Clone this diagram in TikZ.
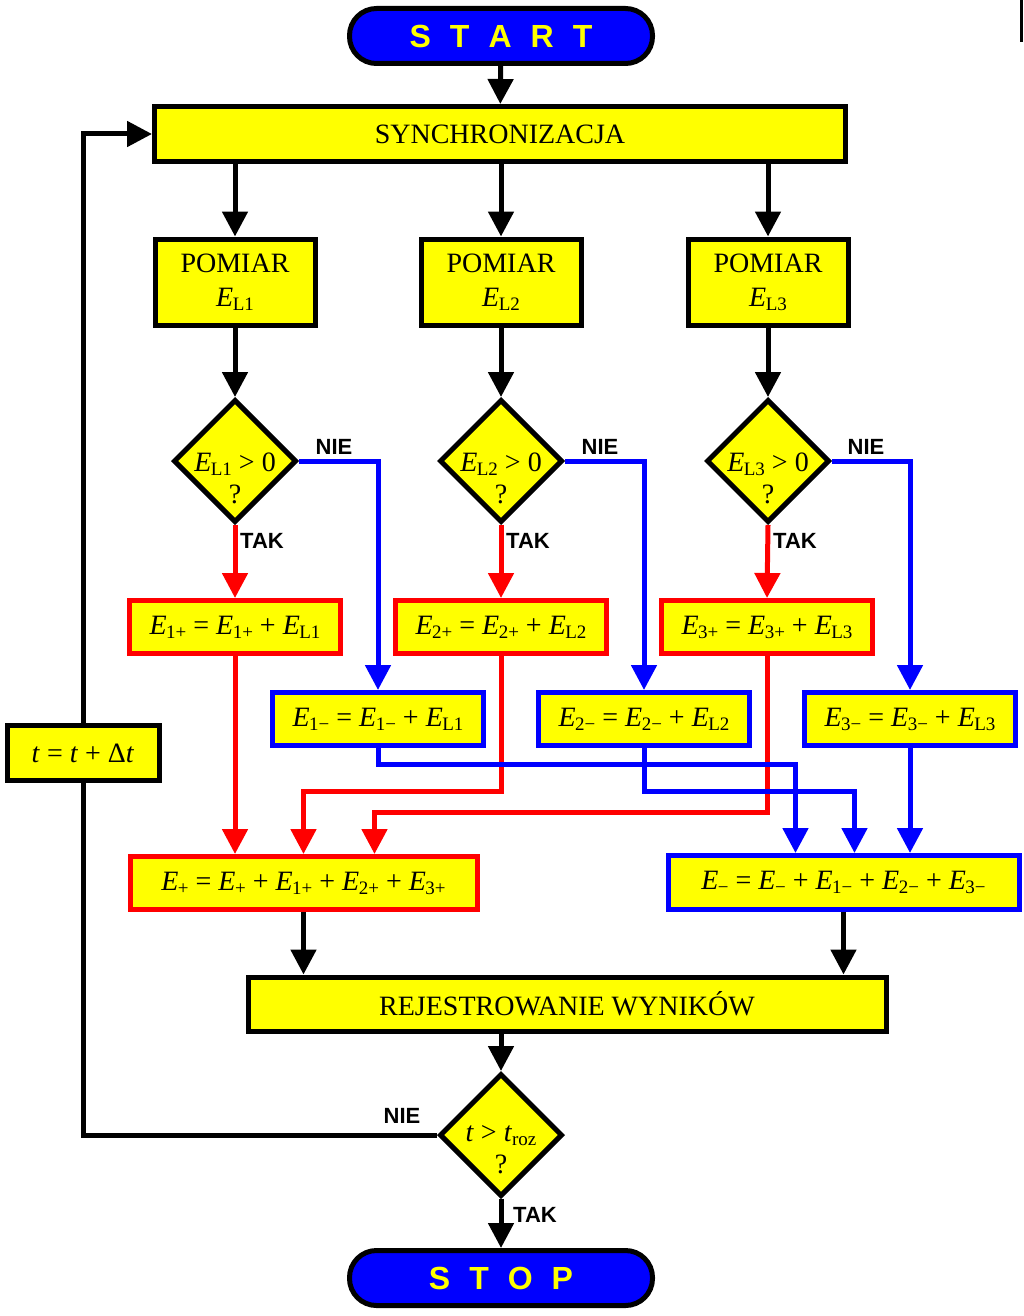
\documentclass[tikz,border=0pt]{standalone}
\usepackage{fontspec}
\setmainfont{Liberation Serif}
\newfontfamily\labfont{Liberation Sans}
\usetikzlibrary{arrows.meta,shapes.geometric,calc}

\definecolor{yel}{RGB}{255,255,0}
\definecolor{blu}{RGB}{0,0,255}
\definecolor{rd}{RGB}{255,0,0}

\newcommand\mysub[1]{\raisebox{-4pt}{\fontsize{19}{19}\selectfont #1}}
\newcommand\vE[1]{\textit{E}\kern-0.5pt\mysub{#1}}

\tikzset{
  box/.style={draw=black, fill=yel, line width=5pt, inner sep=0pt,
    font=\fontsize{28}{34}\selectfont, align=center},
  rbox/.style={box, draw=rd},
  bbox/.style={box, draw=blu},
  term/.style={draw=black, fill=blu, line width=5pt, rounded corners=27pt,
    minimum width=303, minimum height=55, inner sep=0pt, text=yel,
    font=\labfont\bfseries\fontsize{32}{32}\selectfont},
  dia/.style={diamond, draw=black, fill=yel, line width=5pt,
    minimum width=123, minimum height=123, inner sep=0pt},
  dtext/.style={font=\fontsize{28}{32}\selectfont, align=center, inner sep=0pt},
  note/.style={font=\labfont\bfseries\fontsize{22}{22}\selectfont, inner sep=0pt},
  conn/.style={line width=5pt},
  arr/.style={conn, -{Triangle[length=25pt,width=25pt]}},
}

\begin{document}
\begin{tikzpicture}[x=1pt,y=-1pt]
\useasboundingbox (0,0) rectangle (1024,1316);

% terminals
\node[term] (start) at (501,36) {S\hspace{19pt}T\hspace{19pt}A\hspace{19pt}R\hspace{19pt}T};
\node[term] (stop) at (501,1278) {S\hspace{19pt}T\hspace{19pt}O\hspace{19pt}P};

% process boxes
\node[box, minimum width=691, minimum height=55] (sync) at (500,134) {SYNCHRONIZACJA};
\node[box, minimum width=160, minimum height=86] (p1) at (235,282) {POMIAR\\\vE{L1}};
\node[box, minimum width=160, minimum height=86] (p2) at (501,282) {POMIAR\\\vE{L2}};
\node[box, minimum width=160, minimum height=86] (p3) at (768,282) {POMIAR\\\vE{L3}};

% decisions
\node[dia] (d1) at (235,461) {};
\node[dia] (d2) at (501,461) {};
\node[dia] (d3) at (768,461) {};
\node[dtext] (d1t) at ($(d1)+(0,17)$) {\vE{L1} > 0\\?};
\node[dtext] (d2t) at ($(d2)+(0,17)$) {\vE{L2} > 0\\?};
\node[dtext] (d3t) at ($(d3)+(0,17)$) {\vE{L3} > 0\\?};

% positive sums
\node[rbox, minimum width=211, minimum height=53] (ep1) at (235,627) {\vE{1+} = \vE{1+} + \vE{L1}};
\node[rbox, minimum width=211, minimum height=53] (ep2) at (501,627) {\vE{2+} = \vE{2+} + \vE{L2}};
\node[rbox, minimum width=211, minimum height=53] (ep3) at (767,627) {\vE{3+} = \vE{3+} + \vE{L3}};

% negative sums
\node[bbox, minimum width=211, minimum height=53] (em1) at (378,719) {\vE{1−} = \vE{1−} + \vE{L1}};
\node[bbox, minimum width=211, minimum height=53] (em2) at (644,719) {\vE{2−} = \vE{2−} + \vE{L2}};
\node[bbox, minimum width=211, minimum height=53] (em3) at (910,719) {\vE{3−} = \vE{3−} + \vE{L3}};

% totals
\node[rbox, minimum width=347, minimum height=53] (eplus) at (303.5,883) {\vE{+} = \vE{+} + \vE{1+} + \vE{2+} + \vE{3+}};
\node[bbox, minimum width=351, minimum height=54] (eminus) at (843.5,882.5) {\vE{−} = \vE{−} + \vE{1−} + \vE{2−} + \vE{3−}};

% time step
\node[box, minimum width=152, minimum height=55] (tb) at (83,753) {\textit{t} = \textit{t} + Δ\textit{t}};

% registration
\node[box, minimum width=638, minimum height=54] (rej) at (567,1004) {REJESTROWANIE WYNIKÓW};

% final decision
\node[dia] (dz) at (501,1135) {};
\node[dtext] (dzt) at ($(dz)+(0,15)$) {\textit{t} > \textit{t}\mysub{roz}\\?};

% labels
\node[note] (n1) at (334,447) {NIE};
\node[note] (n2) at (600,447) {NIE};
\node[note] (n3) at (866,447) {NIE};
\node[note] (t1) at (262,541) {TAK};
\node[note] (t2) at (528,541) {TAK};
\node[note] (t3) at (795,541) {TAK};
\node[note] (nz) at (402,1116) {NIE};
\node[note] (tz) at (535,1215) {TAK};

% helper coordinates
\coordinate (r2) at (0,791);
\coordinate (r3) at (0,812);
\coordinate (b1) at (0,764);
\coordinate (b2) at (0,791);
\coordinate (ein2) at (eplus.north);
\coordinate (ein3) at ([xshift=71pt]eplus.north);
\coordinate (bin1) at ([xshift=-48pt]eminus.north);
\coordinate (bin2) at ([xshift=11pt]eminus.north);

% black connectors
\draw[arr] (start) -- (sync);
\draw[arr] (sync.south -| p1) -- (p1);
\draw[arr] (sync.south -| p2) -- (p2);
\draw[arr] (sync.south -| p3) -- (p3);
\draw[arr] (p1) -- (d1);
\draw[arr] (p2) -- (d2);
\draw[arr] (p3) -- (d3);

% TAK branches
\draw[arr, color=rd] (d1.south) -- (ep1.north);
\draw[arr, color=rd] (d2.south) -- (ep2.north);
\draw[arr, color=rd] (d3.south) -- (ep3.north);

% NIE branches
\draw[arr, color=blu] (d1.east) -| (em1.north);
\draw[arr, color=blu] (d2.east) -| (em2.north);
\draw[arr, color=blu] (d3.east) -| (em3.north);

% collecting positive
\draw[arr, color=rd] (ep1.south) -- (ep1.south |- eplus.north);
\draw[arr, color=rd] (ep2.south) |- (ein2 |- r2) -- (ein2);
\draw[arr, color=rd] (ep3.south) |- (ein3 |- r3) -- (ein3);

% collecting negative
\draw[arr, color=blu] (em1.south) |- (bin1 |- b1) -- (bin1);
\draw[arr, color=blu] (em2.south) |- (bin2 |- b2) -- (bin2);
\draw[arr, color=blu] (em3.south) -- (em3.south |- eminus.north);

% to registration
\draw[arr] (eplus.south) -- (eplus.south |- rej.north);
\draw[arr] (eminus.south) -- (eminus.south |- rej.north);
\draw[arr] (rej.south -| dz) -- (dz.north);

% loop and stop
\draw[conn] (dz.west) -| (tb.south);
\draw[arr] (tb.north) |- (sync.west);
\draw[arr] (dz.south) -- (stop.north);

% stray mark at top right
\draw[line width=3pt] (1021,0) -- (1021,42);
\end{tikzpicture}
\end{document}
